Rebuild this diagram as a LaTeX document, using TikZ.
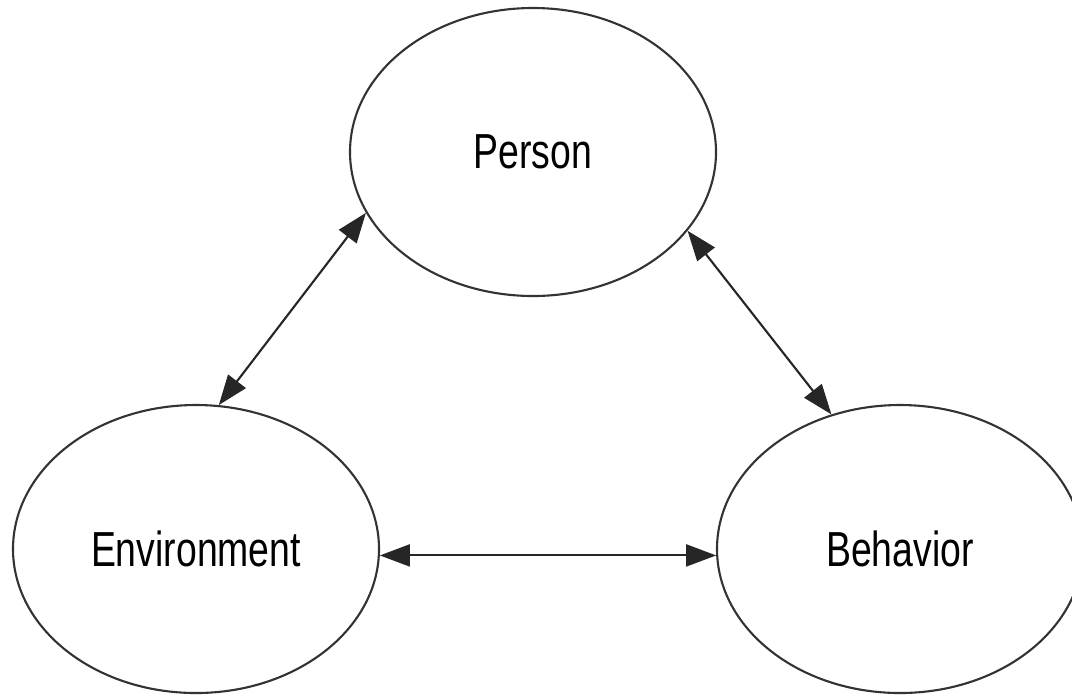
\documentclass[tikz,border=0pt]{standalone}
\usepackage{fontspec}
\setmainfont{Liberation Sans}
\usepackage{graphicx}
\usetikzlibrary{arrows.meta,shapes.geometric}
\newcommand{\narrow}[1]{\scalebox{0.76}[1]{#1}}

\begin{document}
\begin{tikzpicture}[
	blob/.style={draw=black!80, ellipse, line width=0.6pt, minimum width=3.66cm, minimum height=2.88cm, inner sep=0pt, font=\fontsize{14}{16}\selectfont},
	link/.style={black!85, line width=0.6pt, {Triangle[length=3mm,width=2.2mm]}-{Triangle[length=3mm,width=2.2mm]}}]
		\useasboundingbox (0,0) rectangle (10.72,-6.95);
		\node[blob] (person) at (5.33,-1.52) {\narrow{Person}};
		\node[blob] (env) at (1.96,-5.49) {\narrow{Environment}};
		\node[blob] (beh) at (9.00,-5.49) {\narrow{Behavior}};
		\draw [link] (person.200) to (env.81);
		\draw [link] (person.333) to (beh.117);
		\draw [link] (env.-2) to (beh.182);
	\end{tikzpicture}
\end{document}
